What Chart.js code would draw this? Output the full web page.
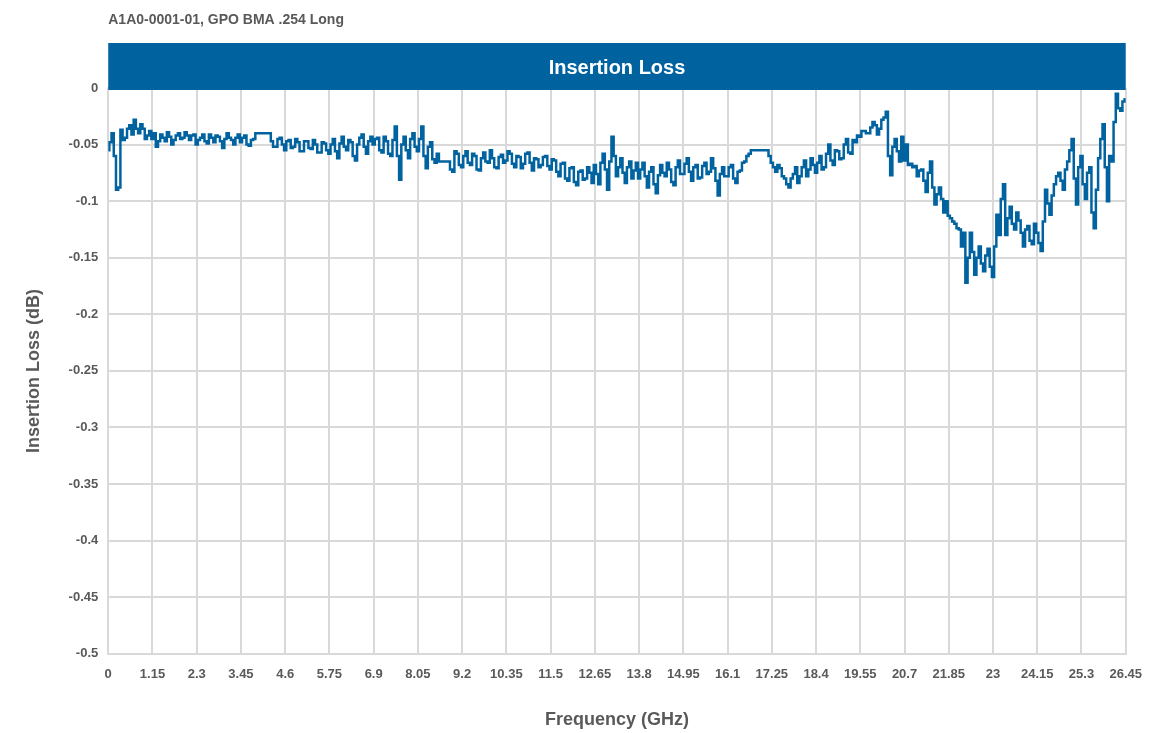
<!DOCTYPE html>
<html>
<head>
<meta charset="utf-8">
<title>Insertion Loss</title>
<script src="https://cdn.jsdelivr.net/npm/chart.js@4/dist/chart.umd.min.js"></script>
<style>
    html, body { margin: 0; padding: 0; background: #ffffff; }
    #wrap { width: 1155px; height: 733px; position: relative; }
</style>
</head>
<body>
<div id="wrap"><canvas id="lossChart"></canvas></div>
<script>
// Sweep setup: 461 points from 0 to 26.45 GHz
const freqStart = 0;
const freqStep = 0.0575;

// Frequency ticks shown on the x axis (GHz)
const freqTicks = [0, 1.15, 2.3, 3.45, 4.6, 5.75, 6.9, 8.05, 9.2, 10.35, 11.5, 12.65,
    13.8, 14.95, 16.1, 17.25, 18.4, 19.55, 20.7, 21.85, 23, 24.15, 25.3, 26.45];

// Insertion loss ticks (dB)
const lossTicks = [0, -0.05, -0.1, -0.15, -0.2, -0.25, -0.3, -0.35, -0.4, -0.45, -0.5];

// Measured insertion loss (dB), one value per sweep point (20 per 1.15 GHz)
const insertionLoss = [
    -0.055, -0.048, -0.040, -0.060, -0.090, -0.088, -0.037, -0.046, -0.044, -0.036,
    -0.033, -0.041, -0.028, -0.036, -0.040, -0.032, -0.036, -0.045, -0.042, -0.038,
    -0.045, -0.040, -0.052, -0.047, -0.041, -0.044, -0.047, -0.039, -0.043, -0.050,
    -0.046, -0.042, -0.040, -0.045, -0.044, -0.039, -0.042, -0.046, -0.042, -0.041,
    -0.050, -0.046, -0.044, -0.041, -0.047, -0.049, -0.041, -0.044, -0.048, -0.042,
    -0.043, -0.047, -0.053, -0.045, -0.040, -0.044, -0.046, -0.050, -0.044, -0.041,
    -0.048, -0.044, -0.042, -0.050, -0.051, -0.046, -0.045, -0.040, -0.040, -0.040,
    -0.040, -0.040, -0.040, -0.040, -0.047, -0.052, -0.052, -0.045, -0.044, -0.050,
    -0.055, -0.047, -0.046, -0.053, -0.052, -0.045, -0.048, -0.056, -0.056, -0.047,
    -0.047, -0.053, -0.054, -0.046, -0.050, -0.057, -0.057, -0.048, -0.049, -0.055,
    -0.058, -0.050, -0.045, -0.056, -0.062, -0.049, -0.043, -0.052, -0.055, -0.046,
    -0.048, -0.060, -0.064, -0.050, -0.044, -0.041, -0.052, -0.058, -0.047, -0.043,
    -0.050, -0.045, -0.044, -0.055, -0.057, -0.043, -0.047, -0.058, -0.060, -0.046,
    -0.034, -0.060, -0.081, -0.050, -0.043, -0.055, -0.062, -0.045, -0.040, -0.052,
    -0.056, -0.045, -0.034, -0.060, -0.071, -0.052, -0.048, -0.063, -0.066, -0.058,
    -0.065, -0.065, -0.065, -0.065, -0.065, -0.072, -0.074, -0.056, -0.058, -0.068,
    -0.070, -0.060, -0.056, -0.066, -0.068, -0.058, -0.060, -0.072, -0.073, -0.062,
    -0.057, -0.065, -0.066, -0.055, -0.062, -0.070, -0.071, -0.061, -0.059, -0.066,
    -0.064, -0.056, -0.058, -0.067, -0.070, -0.060, -0.061, -0.071, -0.067, -0.058,
    -0.057, -0.066, -0.073, -0.062, -0.063, -0.070, -0.068, -0.061, -0.060, -0.069,
    -0.072, -0.063, -0.064, -0.074, -0.078, -0.067, -0.066, -0.080, -0.082, -0.071,
    -0.070, -0.083, -0.086, -0.074, -0.073, -0.081, -0.080, -0.070, -0.075, -0.084,
    -0.068, -0.076, -0.085, -0.066, -0.058, -0.072, -0.090, -0.065, -0.043, -0.060,
    -0.078, -0.070, -0.062, -0.075, -0.084, -0.070, -0.065, -0.080, -0.073, -0.066,
    -0.080, -0.072, -0.066, -0.078, -0.088, -0.074, -0.070, -0.085, -0.093, -0.077,
    -0.068, -0.075, -0.078, -0.066, -0.072, -0.083, -0.086, -0.070, -0.064, -0.076,
    -0.076, -0.067, -0.062, -0.074, -0.082, -0.070, -0.068, -0.080, -0.079, -0.069,
    -0.066, -0.076, -0.074, -0.062, -0.071, -0.082, -0.095, -0.076, -0.070, -0.078,
    -0.078, -0.070, -0.068, -0.080, -0.084, -0.074, -0.073, -0.066, -0.065, -0.060,
    -0.058, -0.055, -0.055, -0.055, -0.055, -0.055, -0.055, -0.055, -0.055, -0.060,
    -0.066, -0.070, -0.074, -0.068, -0.071, -0.078, -0.080, -0.085, -0.088, -0.080,
    -0.076, -0.070, -0.084, -0.078, -0.070, -0.064, -0.078, -0.072, -0.062, -0.068,
    -0.075, -0.066, -0.060, -0.072, -0.070, -0.058, -0.050, -0.064, -0.068, -0.055,
    -0.056, -0.063, -0.062, -0.050, -0.045, -0.057, -0.058, -0.046, -0.048, -0.042,
    -0.043, -0.038, -0.038, -0.040, -0.040, -0.035, -0.030, -0.033, -0.041, -0.036,
    -0.028, -0.026, -0.021, -0.060, -0.077, -0.052, -0.045, -0.056, -0.065, -0.043,
    -0.064, -0.050, -0.068, -0.067, -0.070, -0.069, -0.078, -0.073, -0.072, -0.082,
    -0.092, -0.075, -0.065, -0.088, -0.103, -0.094, -0.088, -0.098, -0.110, -0.100,
    -0.113, -0.115, -0.118, -0.120, -0.124, -0.125, -0.140, -0.128, -0.172, -0.150,
    -0.128, -0.145, -0.165, -0.150, -0.140, -0.155, -0.162, -0.148, -0.142, -0.158,
    -0.167, -0.140, -0.112, -0.130, -0.098, -0.085, -0.130, -0.115, -0.105, -0.120,
    -0.125, -0.110, -0.117, -0.128, -0.140, -0.125, -0.122, -0.135, -0.138, -0.120,
    -0.128, -0.137, -0.144, -0.118, -0.090, -0.102, -0.112, -0.095, -0.085, -0.078,
    -0.075, -0.082, -0.090, -0.072, -0.065, -0.055, -0.045, -0.080, -0.103, -0.070,
    -0.060, -0.085, -0.098, -0.075, -0.070, -0.110, -0.124, -0.090, -0.062, -0.045,
    -0.032, -0.070, -0.100, -0.060, -0.065, -0.030, -0.005, -0.018, -0.020, -0.012,
    -0.010
];

const BRAND_BLUE = '#0063a0';
const TEXT_GREY = '#595959';
const GRID_GREY = '#d9d9d9';
const FONT = '"Liberation Sans", Arial, sans-serif';

const points = insertionLoss.map((v, i) => ({
    x: +(freqStart + i * freqStep).toFixed(4),
    y: v
}));

const fmt = v => {
    const n = Number(v.toFixed(2));
    return n === 0 ? '0' : String(n);
};

// Part number caption and the blue header band over the plot area
const headerBand = {
    id: 'headerBand',
    afterDraw(chart) {
        const ctx = chart.ctx;
        const area = chart.chartArea;
        ctx.save();
        ctx.fillStyle = BRAND_BLUE;
        ctx.fillRect(area.left, 43, area.right - area.left, 47);
        ctx.fillStyle = '#ffffff';
        ctx.font = 'bold 20px ' + FONT;
        ctx.textAlign = 'center';
        ctx.textBaseline = 'middle';
        ctx.fillText('Insertion Loss', (area.left + area.right) / 2, 68);
        ctx.fillStyle = TEXT_GREY;
        ctx.font = 'bold 14px ' + FONT;
        ctx.textAlign = 'left';
        ctx.fillText('A1A0-0001-01, GPO BMA .254 Long', area.left, 20);
        ctx.restore();
    }
};

const ctx = document.getElementById('lossChart').getContext('2d');
new Chart(ctx, {
    type: 'line',
    data: {
        datasets: [{
            label: 'Insertion Loss',
            data: points,
            borderColor: BRAND_BLUE,
            borderWidth: 2.5,
            pointRadius: 0,
            stepped: 'middle',
            fill: false
        }]
    },
    options: {
        responsive: true,
        maintainAspectRatio: false,
        animation: false,
        layout: {
            padding: { top: 88, right: 2, left: 19, bottom: 0 }
        },
        plugins: {
            legend: { display: false },
            tooltip: { enabled: false }
        },
        scales: {
            x: {
                type: 'linear',
                min: freqTicks[0],
                max: freqTicks[freqTicks.length - 1],
                afterBuildTicks: axis => {
                    axis.ticks = freqTicks.map(v => ({ value: v }));
                },
                grid: { color: GRID_GREY, lineWidth: 2, drawTicks: false },
                border: { color: GRID_GREY, width: 2 },
                ticks: {
                    color: TEXT_GREY,
                    font: { family: FONT, size: 13, weight: 'bold' },
                    padding: 13,
                    maxRotation: 0,
                    autoSkip: false,
                    callback: v => fmt(v)
                },
                title: {
                    display: true,
                    text: 'Frequency (GHz)',
                    color: TEXT_GREY,
                    font: { family: FONT, size: 18, weight: 'bold' },
                    padding: { top: 14, bottom: 2 }
                }
            },
            y: {
                min: -0.5,
                max: 0,
                afterBuildTicks: axis => {
                    axis.ticks = lossTicks.map(v => ({ value: v }));
                },
                grid: { color: GRID_GREY, lineWidth: 2, drawTicks: false },
                border: { color: GRID_GREY, width: 2 },
                ticks: {
                    color: TEXT_GREY,
                    font: { family: FONT, size: 13, weight: 'bold' },
                    padding: 10,
                    callback: v => fmt(v)
                },
                title: {
                    display: true,
                    text: 'Insertion Loss (dB)',
                    color: TEXT_GREY,
                    font: { family: FONT, size: 18, weight: 'bold' },
                    padding: { bottom: 14 }
                }
            }
        }
    },
    plugins: [headerBand]
});
</script>
</body>
</html>
